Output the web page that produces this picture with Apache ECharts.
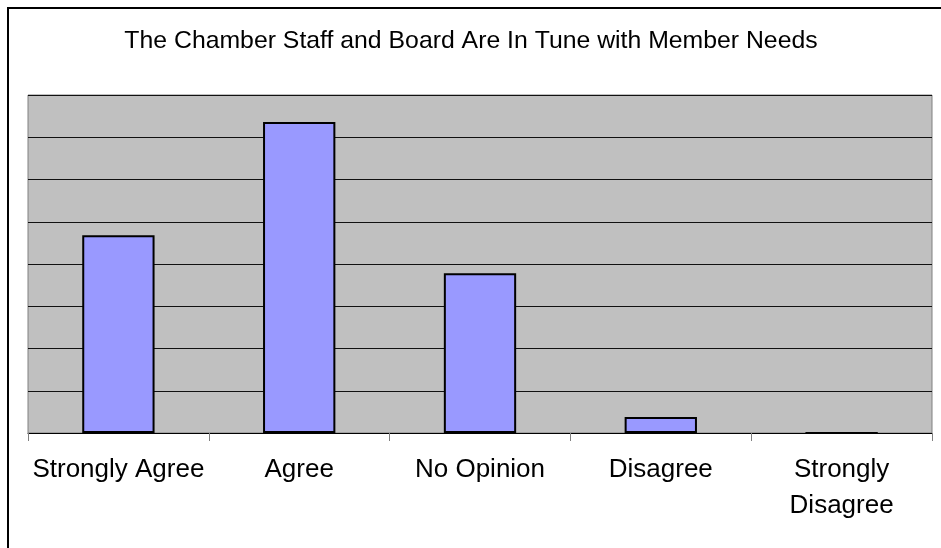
<!DOCTYPE html>
<html>
<head>
<meta charset="utf-8">
<script src="https://cdn.jsdelivr.net/npm/echarts@6/dist/echarts.min.js"></script>
<style>
html,body{margin:0;padding:0;background:#fff;}
#chart{width:941px;height:548px;}
</style>
</head>
<body>
<div id="chart"></div>
<script>
const titleText = "The Chamber Staff and Board Are In Tune with Member Needs";
const categories = ["Strongly Agree", "Agree", "No Opinion", "Disagree", "Strongly\nDisagree"];
const values = [23.4, 36.8, 18.9, 1.9, 0];

const chart = echarts.init(document.getElementById('chart'), null, {renderer: 'canvas'});
chart.setOption({
  animation: false,
  backgroundColor: '#ffffff',
  title: {
    text: titleText,
    left: 466,
    textAlign: 'center',
    top: 24,
    textStyle: {fontFamily: 'Liberation Sans, Arial, sans-serif', fontSize: 24.8, fontWeight: 'normal', color: '#000'}
  },
  graphic: [{
    type: 'rect',
    shape: {x: 8, y: 8, width: 1200, height: 1200},
    style: {fill: 'none', stroke: '#000', lineWidth: 2},
    silent: true,
    z: 100
  }],
  grid: {
    left: 28, right: 9, top: 95, bottom: 115,
    show: true,
    backgroundColor: '#C0C0C0',
    borderColor: '#808080',
    borderWidth: 1
  },
  xAxis: {
    type: 'category',
    data: categories,
    boundaryGap: true,
    axisLine: {show: true, lineStyle: {color: '#000', width: 1}},
    axisTick: {show: true, length: 8, alignWithLabel: false, lineStyle: {color: '#808080', width: 1}},
    axisLabel: {
      show: true, interval: 0, margin: 19,
      fontFamily: 'Liberation Sans, Arial, sans-serif', fontSize: 26, color: '#000',
      lineHeight: 36
    }
  },
  yAxis: {
    type: 'value',
    min: 0, max: 40, interval: 5,
    axisLine: {show: false},
    axisTick: {show: false},
    axisLabel: {show: false},
    splitLine: {show: true, lineStyle: {color: '#111', width: 1}}
  },
  series: [{
    type: 'bar',
    data: values,
    barWidth: '40%',
    itemStyle: {color: '#9999FF', borderColor: '#000', borderWidth: 2}
  }]
});
</script>
</body>
</html>
